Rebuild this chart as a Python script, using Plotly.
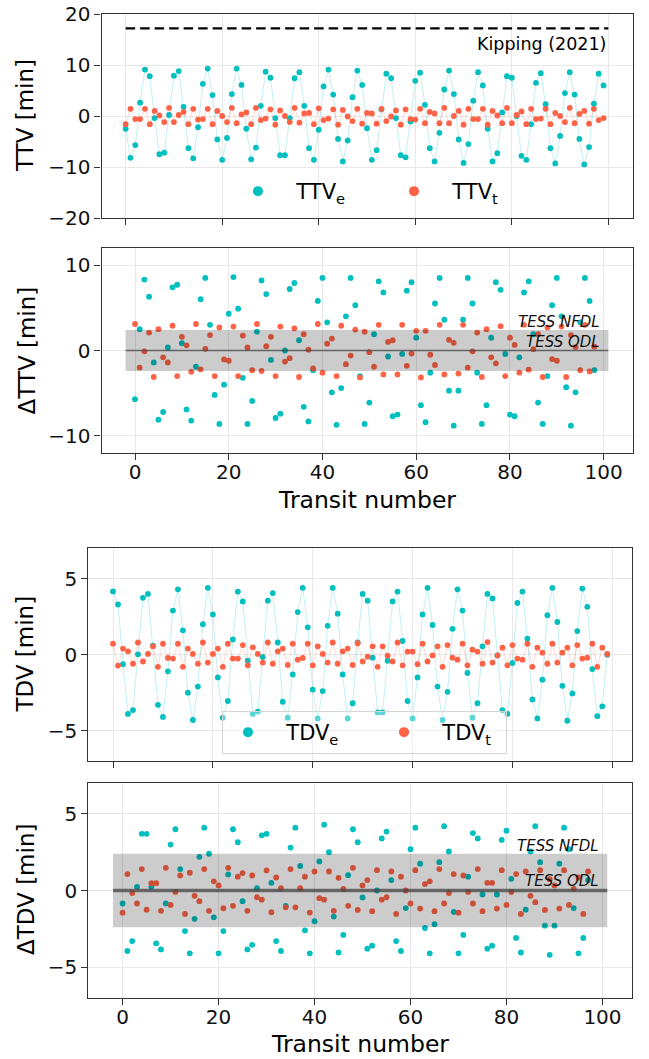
import plotly.graph_objects as go

# ---------------- data ----------------
TRANSIT = list(range(100))
TRANSIT_D = list(range(99))
TRANSIT_DD = list(range(98))

TTV_E = [-2.5, -8.2, -5.7, 2.6, 9.1, 7.8, -0.4, -7.5, -7.2, 0.2,
         7.9, 8.8, 1.8, -6.3, -8.3, -2.2, 6.3, 9.3, 4.1, -4.6,
         -8.6, -4.3, 4.3, 9.3, 6.1, -2.5, -8.5, -6.2, 2.0, 8.7,
         7.5, -0.4, -7.7, -7.7, -0.4, 7.4, 8.6, 2.0, -6.3, -8.6,
         -2.7, 5.8, 9.1, 4.2, -4.5, -8.9, -4.8, 3.7, 8.9, 6.1,
         -2.4, -8.6, -6.7, 1.3, 8.3, 7.4, -0.4, -7.7, -8.1, -1.1,
         6.9, 8.5, 2.2, -6.3, -8.9, -3.3, 5.2, 8.9, 4.3, -4.6,
         -9.2, -5.5, 3.0, 8.6, 6.0, -2.5, -8.9, -7.3, 0.7, 7.8,
         7.5, 0.0, -7.8, -8.6, -1.6, 6.5, 8.4, 2.3, -6.3, -9.3,
         -3.9, 4.5, 8.6, 4.2, -4.5, -9.5, -6.1, 2.4, 8.3, 6.0]

TTV_T = [-1.6, 1.4, -0.6, -0.6, 1.4, -1.6, 1.0, 0.1, -1.2, 1.6,
         -1.2, 0.2, 0.8, -1.6, 1.4, -0.7, -0.6, 1.4, -1.6, 1.0,
         0.0, -1.2, 1.6, -1.4, 0.3, 0.7, -1.6, 1.6, -0.8, -0.5,
         1.3, -1.7, 1.1, 0.0, -1.2, 1.6, -1.3, 0.5, 0.6, -1.6,
         1.5, -0.8, -0.5, 1.3, -1.7, 1.2, -0.1, -1.0, 1.4, -1.5,
         0.6, 0.5, -1.5, 1.4, -1.0, -0.1, 1.1, -1.7, 1.3, -0.6,
         -0.7, 1.4, -1.4, 0.8, 0.5, -1.4, 1.6, -1.4, 0.0, 1.0,
         -1.7, 1.4, -0.6, -0.6, 1.4, -1.7, 1.0, 0.1, -1.4, 1.6,
         -1.4, 0.2, 0.9, -1.6, 1.4, -0.6, -0.5, 1.4, -1.6, 0.6,
         0.0, -1.2, 1.6, -1.4, 0.4, 1.0, -1.5, 1.4, -0.8, -0.4]

DTTV_E = [-5.7, 2.5, 8.3, 6.3, -1.4, -8.1, -7.2, 0.35, 7.4, 7.7,
          0.85, -6.9, -8.2, -1.9, 6.0, 8.5, 3.0, -5.2, -8.6, -4.0,
          4.3, 8.6, 4.9, -3.2, -8.6, -5.9, 2.2, 8.2, 6.6, -1.1,
          -7.9, -7.4, 0.0, 7.2, 7.9, 1.2, -6.6, -8.3, -2.3, 5.8,
          8.5, 3.3, -4.9, -8.7, -4.4, 4.0, 8.5, 5.3, -3.0, -8.6,
          -6.1, 1.9, 8.1, 6.8, -0.7, -7.7, -7.5, -0.4, 7.0, 8.0,
          1.5, -6.4, -8.4, -2.6, 5.5, 8.5, 3.6, -4.7, -8.8, -4.7,
          3.6, 8.5, 5.5, -2.6, -8.6, -6.4, 1.5, 8.0, 7.1, -0.4,
          -7.5, -7.7, -0.8, 6.8, 8.1, 1.9, -6.1, -8.6, -3.0, 5.3,
          8.5, 4.0, -4.3, -8.8, -4.9, 3.3, 8.5, 5.8, -2.3]

DTTV_T = [3.1, -2.0, -0.1, 2.1, -3.1, 2.5, -0.8, -1.4, 2.9, -3.0,
          1.6, 0.6, -2.5, 3.1, -2.2, 0.2, 1.8, -3.0, 2.7, -1.05,
          -1.2, 2.8, -3.0, 1.75, 0.35, -2.3, 3.1, -2.4, 0.5, 1.6,
          -3.0, 2.8, -1.3, -0.9, 2.6, -3.1, 1.9, 0.1, -2.1, 3.1,
          -2.6, 0.8, 1.4, -3.0, 2.9, -1.6, -0.6, 2.45, -3.15, 2.2,
          -0.2, -1.9, 3.0, -2.8, 1.0, 1.2, -2.8, 3.0, -1.8, -0.35,
          2.3, -3.15, 2.3, -0.5, -1.7, 3.0, -2.8, 1.25, 0.9, -2.7,
          3.0, -2.0, -0.1, 2.1, -3.1, 2.5, -0.8, -1.5, 2.85, -3.0,
          1.5, 0.65, -2.6, 3.0, -2.25, 0.15, 1.9, -3.1, 2.7, -1.0,
          -1.2, 2.8, -3.1, 1.8, 0.4, -2.3, 3.0, -2.45, 0.45]

TDV_E = [4.16, 3.3, -0.63, -3.9, -3.65, 0.02, 3.74, 4.0, 0.6, -3.3,
         -4.1, -1.1, 2.9, 4.3, 1.6, -2.5, -4.3, -2.1, 2.0, 4.4,
         2.65, -1.5, -4.15, -3.05, 1.0, 4.15, 3.5, -0.4, -3.9, -3.75,
         -0.15, 3.55, 4.05, 0.8, -3.1, -4.15, -1.3, 2.8, 4.4, 1.8,
         -2.3, -4.2, -2.4, 1.9, 4.4, 2.7, -1.3, -4.2, -3.2, 0.8,
         4.0, 3.55, -0.2, -3.8, -3.8, -0.4, 3.5, 4.15, 0.9, -3.05,
         -4.2, -1.5, 2.65, 4.4, 1.95, -2.1, -4.3, -2.45, 1.7, 4.3,
         2.9, -1.2, -4.15, -3.2, 0.55, 4.0, 3.7, -0.05, -3.65, -3.9,
         -0.55, 3.4, 4.15, 1.05, -2.95, -4.2, -1.65, 2.6, 4.4, 2.15,
         -2.05, -4.35, -2.55, 1.55, 4.35, 3.15, -0.95, -4.05, -3.4, 0.0]

TDV_T = [0.72, -0.72, 0.4, 0.22, -0.6, 0.8, -0.45, 0.05, 0.55, -0.8,
         0.72, -0.22, -0.26, 0.72, -0.8, 0.4, 0.05, -0.6, 0.8, -0.52,
         0.05, 0.4, -0.8, 0.72, -0.26, -0.26, 0.63, -0.7, 0.48, 0.05,
         -0.52, 0.8, -0.6, 0.22, 0.4, -0.68, 0.72, -0.33, -0.22, 0.72,
         -0.7, 0.55, 0.05, -0.52, 0.8, -0.6, 0.22, 0.4, -0.68, 0.75,
         -0.45, -0.13, 0.55, -0.8, 0.55, -0.07, -0.45, 0.8, -0.7, 0.2,
         0.2, -0.63, 0.72, -0.45, -0.05, 0.55, -0.8, 0.63, -0.2, -0.33,
         0.72, -0.7, 0.33, 0.2, -0.6, 0.83, -0.52, -0.05, 0.46, -0.7,
         0.63, -0.26, -0.33, 0.72, -0.8, 0.46, 0.13, -0.6, 0.72, -0.52,
         0.13, 0.46, -0.7, 0.63, -0.26, -0.2, 0.72, -0.8, 0.46, 0.05]

DTDV_E = [-0.85, -3.95, -3.3, 0.24, 3.7, 3.7, 0.24, -3.45, -3.85, -0.85,
          3.0, 4.0, 1.4, -2.65, -4.1, -1.85, 2.2, 4.1, 2.4, -1.75,
          -4.1, -2.65, 1.05, 4.0, 3.15, -0.7, -3.85, -3.55, 0.15, 3.6,
          3.7, 0.5, -3.3, -3.95, -1.0, 2.8, 4.1, 1.6, -2.6, -4.1,
          -2.0, 1.9, 4.3, 2.5, -1.7, -4.05, -2.9, 1.0, 4.0, 3.15,
          -0.45, -3.8, -3.6, 0.0, 3.4, 3.85, 0.68, -3.3, -3.95, -1.15,
          2.7, 4.1, 1.75, -2.45, -4.1, -2.2, 1.85, 4.2, 2.55, -1.4,
          -4.1, -2.9, 0.9, 3.75, 3.4, -0.26, -3.8, -3.6, -0.26, 3.3,
          3.9, 0.76, -3.1, -4.05, -1.25, 2.55, 4.2, 1.85, -2.3, -4.2,
          -2.3, 1.75, 4.1, 2.7, -1.15, -4.1, -3.1, 0.68]

DTDV_T = [-1.45, 1.07, -0.17, -0.85, 1.4, -1.25, 0.48, 0.48, -1.33, 1.48,
          -0.94, -0.09, 0.98, -1.53, 1.16, -0.35, -0.7, 1.4, -1.33, 0.6,
          0.33, -1.16, 1.48, -1.0, 0.9, 1.14, -1.33, 0.98, -0.44, -0.6,
          1.31, -1.42, 0.85, 0.15, -1.1, 1.4, -1.1, 0.15, 0.9, -1.44,
          1.24, -0.5, -0.6, 1.24, -1.33, 0.83, 0.1, -1.0, 1.48, -1.27,
          0.33, 0.68, -1.35, 1.33, -0.6, -0.44, 1.24, -1.53, 0.9, 0.0,
          -0.85, 1.33, -1.18, 0.42, 0.6, -1.35, 1.4, -0.85, -0.17, 1.07,
          -1.45, 0.98, -0.09, -0.85, 1.4, -1.35, 0.5, 0.5, -1.18, 1.33,
          -0.94, -0.1, 1.07, -1.53, 1.24, -0.35, -0.76, 1.33, -1.27, 0.74,
          0.33, -1.18, 1.33, -0.94, 0.1, 0.85, -1.53, 1.24]

KIPPING_X = [0, 100]
KIPPING_LEVEL = 17.2
BAND_X = [-2, 101]
NFDL = 2.4

X_TICKS = [0, 20, 40, 60, 80, 100]

# ---------------- styling ----------------
FONT = "DejaVu Sans"
TEAL = "#00bfbf"
TOMATO = "#ff6347"
TEAL_LINE = "rgba(0,191,191,0.3)"
TOMATO_LINE = "rgba(255,99,71,0.3)"
MS = 5.8
W, H = 649, 1059
PAD = "\u00a0\u00a0"


def px_x(p):
    return p / W


def px_y(p):
    return 1 - p / H


def xaxis(domain, rng, anchor, labels):
    return dict(domain=domain, range=rng, anchor=anchor, tickvals=X_TICKS,
                showticklabels=labels, ticks="outside", ticklen=6, tickwidth=1.2,
                tickcolor="#333", showline=True, linecolor="#333", linewidth=1.2,
                mirror=True, showgrid=True, gridcolor="#e8e8e8", gridwidth=1,
                zeroline=False, automargin=False, ticklabelstandoff=-5,
                tickfont=dict(family=FONT, size=20, color="#111"))


def yaxis(domain, rng, anchor, ticks):
    return dict(domain=domain, range=rng, anchor=anchor, tickvals=ticks,
                ticks="outside", ticklen=6, tickwidth=1.2, tickcolor="#333",
                showline=True, linecolor="#333", linewidth=1.2, mirror=True,
                showgrid=True, gridcolor="#e8e8e8", gridwidth=1, zeroline=False,
                automargin=False, tickfont=dict(family=FONT, size=20, color="#111"))


fig = go.Figure()

# Panel 1: TTV
fig.add_trace(go.Scatter(x=KIPPING_X, y=[KIPPING_LEVEL] * len(KIPPING_X), mode="lines",
                         line=dict(color="black", width=2.2, dash="9.5px,5px"),
                         showlegend=False, xaxis="x", yaxis="y", hoverinfo="skip"))
fig.add_trace(go.Scatter(x=TRANSIT, y=TTV_E, mode="lines+markers",
                         line=dict(color=TEAL_LINE, width=0.8),
                         marker=dict(color=TEAL, size=MS), showlegend=False,
                         xaxis="x", yaxis="y"))
fig.add_trace(go.Scatter(x=TRANSIT, y=TTV_T, mode="lines+markers",
                         line=dict(color=TOMATO_LINE, width=0.8),
                         marker=dict(color=TOMATO, size=MS), showlegend=False,
                         xaxis="x", yaxis="y"))
fig.add_trace(go.Scatter(x=[None], y=[None], mode="markers", name=PAD + "TTV<sub>e</sub>",
                         marker=dict(color=TEAL, size=10), legend="legend", legendwidth=101,
                         xaxis="x", yaxis="y"))
fig.add_trace(go.Scatter(x=[None], y=[None], mode="markers", name=PAD + "TTV<sub>t</sub>",
                         marker=dict(color=TOMATO, size=10), legend="legend", legendwidth=72,
                         xaxis="x", yaxis="y"))

# Panel 2: delta TTV
fig.add_trace(go.Scatter(x=TRANSIT_D, y=DTTV_E, mode="markers",
                         marker=dict(color=TEAL, size=MS), showlegend=False,
                         xaxis="x2", yaxis="y2"))
fig.add_trace(go.Scatter(x=TRANSIT_D, y=DTTV_T, mode="markers",
                         marker=dict(color=TOMATO, size=MS), showlegend=False,
                         xaxis="x2", yaxis="y2"))

# Panel 3: TDV
fig.add_trace(go.Scatter(x=TRANSIT, y=TDV_E, mode="lines+markers",
                         line=dict(color=TEAL_LINE, width=0.8),
                         marker=dict(color=TEAL, size=MS), showlegend=False,
                         xaxis="x3", yaxis="y3"))
fig.add_trace(go.Scatter(x=TRANSIT, y=TDV_T, mode="lines+markers",
                         line=dict(color=TOMATO_LINE, width=0.8),
                         marker=dict(color=TOMATO, size=MS), showlegend=False,
                         xaxis="x3", yaxis="y3"))
fig.add_trace(go.Scatter(x=[None], y=[None], mode="markers", name=PAD + "TDV<sub>e</sub>",
                         marker=dict(color=TEAL, size=10), legend="legend2", legendwidth=101,
                         xaxis="x3", yaxis="y3"))
fig.add_trace(go.Scatter(x=[None], y=[None], mode="markers", name=PAD + "TDV<sub>t</sub>",
                         marker=dict(color=TOMATO, size=10), legend="legend2", legendwidth=72,
                         xaxis="x3", yaxis="y3"))

# Panel 4: delta TDV
fig.add_trace(go.Scatter(x=TRANSIT_DD, y=DTDV_E, mode="markers",
                         marker=dict(color=TEAL, size=MS), showlegend=False,
                         xaxis="x4", yaxis="y4"))
fig.add_trace(go.Scatter(x=TRANSIT_DD, y=DTDV_T, mode="markers",
                         marker=dict(color=TOMATO, size=MS), showlegend=False,
                         xaxis="x4", yaxis="y4"))

# bands and zero lines (drawn above the points)
shapes = []
for xr, yr, lw in (("x2", "y2", 1.5), ("x4", "y4", 3.3)):
    shapes.append(dict(type="rect", xref=xr, yref=yr, x0=BAND_X[0], x1=BAND_X[1],
                       y0=-NFDL, y1=NFDL, fillcolor="rgba(0,0,0,0.2)",
                       line=dict(width=0), layer="above"))
    shapes.append(dict(type="line", xref=xr, yref=yr, x0=BAND_X[0], x1=BAND_X[1],
                       y0=0, y1=0, line=dict(color="rgba(70,70,70,0.75)", width=lw),
                       layer="above"))

dom_top = [px_x(101.5), px_x(632.5)]
dom_bot = [px_x(88.3), px_x(632.0)]

annotations = [
    dict(text="Kipping (2021)", xref="x", yref="y", x=100, y=14.2, xanchor="right",
         yanchor="middle", showarrow=False, font=dict(family=FONT, size=17.5, color="black")),
    dict(text="<i>TESS NFDL</i>", xref="x2", yref="y2", x=99.6, y=3.35, xanchor="right",
         yanchor="middle", showarrow=False, font=dict(family=FONT, size=15, color="#111")),
    dict(text="<i>TESS ODL</i>", xref="x2", yref="y2", x=99.6, y=0.95, xanchor="right",
         yanchor="middle", showarrow=False, font=dict(family=FONT, size=15, color="#111")),
    dict(text="<i>TESS NFDL</i>", xref="x4", yref="y4", x=99.7, y=2.9, xanchor="right",
         yanchor="middle", showarrow=False, font=dict(family=FONT, size=15, color="#111")),
    dict(text="<i>TESS ODL</i>", xref="x4", yref="y4", x=99.7, y=0.62, xanchor="right",
         yanchor="middle", showarrow=False, font=dict(family=FONT, size=15, color="#111")),
    dict(text="TTV [min]", xref="paper", yref="paper", x=px_x(25), y=px_y(116),
         textangle=-90, xanchor="center", yanchor="middle", showarrow=False,
         font=dict(family=FONT, size=23, color="black")),
    dict(text="ΔTTV [min]", xref="paper", yref="paper", x=px_x(26), y=px_y(350.5),
         textangle=-90, xanchor="center", yanchor="middle", showarrow=False,
         font=dict(family=FONT, size=23, color="black")),
    dict(text="TDV [min]", xref="paper", yref="paper", x=px_x(25), y=px_y(654.6),
         textangle=-90, xanchor="center", yanchor="middle", showarrow=False,
         font=dict(family=FONT, size=23, color="black")),
    dict(text="ΔTDV [min]", xref="paper", yref="paper", x=px_x(26), y=px_y(890),
         textangle=-90, xanchor="center", yanchor="middle", showarrow=False,
         font=dict(family=FONT, size=23, color="black")),
    dict(text="Transit number", xref="paper", yref="paper", x=px_x(367), y=px_y(500),
         xanchor="center", yanchor="middle", showarrow=False,
         font=dict(family=FONT, size=23.5, color="black")),
    dict(text="Transit number", xref="paper", yref="paper", x=px_x(360), y=px_y(1044),
         xanchor="center", yanchor="middle", showarrow=False,
         font=dict(family=FONT, size=23.5, color="black")),
]

fig.update_layout(
    template="none",
    width=W, height=H,
    margin=dict(l=0, r=0, t=0, b=0),
    paper_bgcolor="white", plot_bgcolor="white",
    font=dict(family=FONT, color="black"),
    xaxis=xaxis(dom_top, [-5, 105], "y", False),
    yaxis=yaxis([px_y(218), px_y(14)], [-20, 20], "x", [-20, -10, 0, 10, 20]),
    xaxis2=xaxis(dom_top, [-7.15, 106.15], "y2", True),
    yaxis2=yaxis([px_y(453), px_y(248)], [-12, 12], "x2", [-10, 0, 10]),
    xaxis3=xaxis(dom_bot, [-4.95, 103.95], "y3", False),
    yaxis3=yaxis([px_y(761), px_y(548.3)], [-7, 7], "x3", [-5, 0, 5]),
    xaxis4=xaxis(dom_bot, [-7.15, 106.15], "y4", True),
    yaxis4=yaxis([px_y(997.7), px_y(783.3)], [-7, 7], "x4", [-5, 0, 5]),
    legend=dict(orientation="h", x=px_x(233), y=px_y(171), xanchor="left", yanchor="top",
                bgcolor="rgba(0,0,0,0)", borderwidth=0, itemwidth=40,
                font=dict(family=FONT, size=21, color="black")),
    legend2=dict(orientation="h", x=px_x(222), y=px_y(711), xanchor="left", yanchor="top",
                 bgcolor="rgba(255,255,255,0.35)", bordercolor="#d5d5d5", borderwidth=1,
                 itemwidth=40, font=dict(family=FONT, size=21, color="black")),
    shapes=shapes,
    annotations=annotations,
)

fig.write_html("out.html")
